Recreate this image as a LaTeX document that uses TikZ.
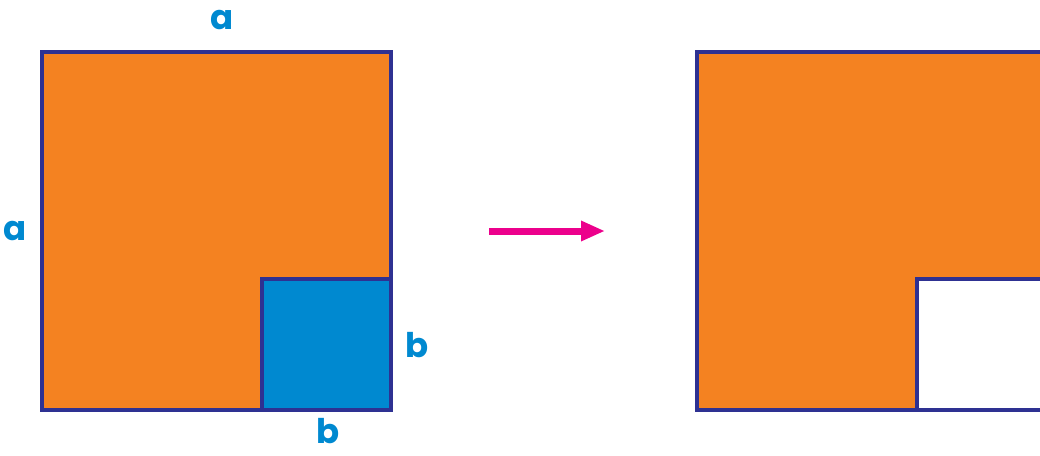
\documentclass[tikz,border=0pt]{standalone}
\usepackage{fontspec}
\setmainfont{Poppins}
\usetikzlibrary{arrows.meta}
\definecolor{orangefill}{HTML}{F48221}
\definecolor{navyline}{HTML}{2E3192}
\definecolor{bluefill}{HTML}{0089D0}
\definecolor{magentaarrow}{HTML}{EC008C}
\tikzset{
  edge/.style={draw=navyline, line width=4pt},
  lbl/.style={text=bluefill, font=\fontsize{34}{34}\selectfont\bfseries, inner sep=0pt, anchor=base},
}
\begin{document}
\begin{tikzpicture}[x=1pt,y=-1pt]
\useasboundingbox (0,0) rectangle (1040,455);
\clip (0,0) rectangle (1040,455);
% left figure
\fill[orangefill] (42,52) rectangle (391,410);
\fill[bluefill] (262,279) rectangle (391,410);
\draw[edge] (42,52) rectangle (391,410);
\draw[edge] (262,410) -- (262,279) -- (391,279);
% labels
\node[lbl] (atop) at (222,29) {a};
\node[lbl] (aleft) at (15,240) {a};
\node[lbl] (bright) at (417,357) {b};
\node[lbl] (bbot) at (328,443) {b};
% arrow
\coordinate (arrs) at (489,231);
\coordinate (arre) at (605,231);
\draw[magentaarrow, line width=7pt, -{Triangle[length=24pt,width=19pt]}] (arrs) -- (arre);
% right figure
\fill[orangefill] (697,52) -- (1100,52) -- (1100,279) -- (917,279) -- (917,410) -- (697,410) -- cycle;
\draw[edge] (697,52) rectangle (1100,410);
\draw[edge] (917,410) -- (917,279) -- (1100,279);
\end{tikzpicture}
\end{document}
